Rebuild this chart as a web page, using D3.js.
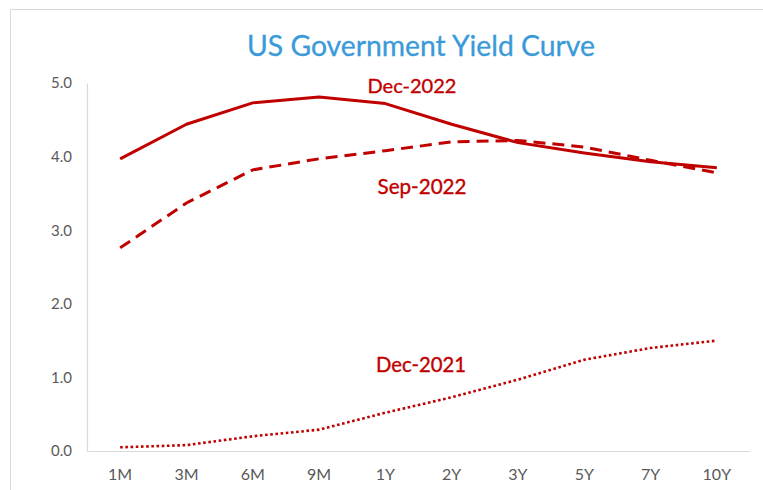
<!DOCTYPE html>
<html><head><meta charset="utf-8">
<script src="https://cdn.jsdelivr.net/npm/d3@7"></script>
<style>body{margin:0;background:#fff}svg{display:block}</style>
</head><body>
<script>
const categories = ["1M","3M","6M","9M","1Y","2Y","3Y","5Y","7Y","10Y"];
const dec2022 = [3.97,4.44,4.73,4.81,4.72,4.44,4.19,4.05,3.93,3.85];
const sep2022 = [2.76,3.37,3.82,3.97,4.08,4.20,4.22,4.13,3.95,3.78];
const dec2021 = [0.05,0.08,0.20,0.29,0.52,0.73,0.97,1.24,1.40,1.50];
const yTicks = [0,1,2,3,4,5];
const seriesNames = ["Dec-2022","Sep-2022","Dec-2021"];
const title = "US Government Yield Curve";

const W = 763, H = 490;
const svg = d3.select("body").append("svg").attr("width", W).attr("height", H);
const font = "Lato, 'Open Sans', sans-serif";

// chart frame
svg.append("rect").attr("x",10.5).attr("y",9.5).attr("width",W).attr("height",H)
  .attr("fill","#fff").attr("stroke","#d9d9d9").attr("stroke-width",1);

const m = {left:87, right:750, top:83, bottom:451};
const x = d3.scaleBand().domain(categories).range([m.left, m.right]).padding(0);
const y = d3.scaleLinear().domain([0,5]).range([m.bottom, m.top]);
const cx = d => x(d) + x.bandwidth()/2;

// axes
const yAxis = svg.append("g").attr("transform",`translate(${m.left},0)`)
  .call(d3.axisLeft(y).tickValues(yTicks).tickFormat(d3.format(".1f")).tickSize(0).tickPadding(15));
const xAxis = svg.append("g").attr("transform",`translate(0,${m.bottom})`)
  .call(d3.axisBottom(x).tickSize(0).tickPadding(18));
yAxis.selectAll("text").style("font-size","15px");
xAxis.selectAll("text").style("font-size","16px");
[yAxis,xAxis].forEach(g=>{
  g.select(".domain").attr("stroke","#d9d9d9").attr("stroke-width",1.2);
  g.selectAll("text").attr("fill","#595959").style("font-family",font);
});

const line = d3.line().x((d,i)=>cx(categories[i])).y(d=>y(d));
const red = "#c00000";
svg.append("path").datum(dec2021).attr("d",line).attr("fill","none")
  .attr("stroke",red).attr("stroke-width",2.6).attr("stroke-dasharray","2.6 2.6");
svg.append("path").datum(sep2022).attr("d",line).attr("fill","none")
  .attr("stroke",red).attr("stroke-width",3).attr("stroke-dasharray","12 7");
svg.append("path").datum(dec2022).attr("d",line).attr("fill","none")
  .attr("stroke",red).attr("stroke-width",3).attr("stroke-linejoin","round");

// fit text to target width
function fitText(t, targetW){
  const w = t.node().getComputedTextLength();
  const fs = parseFloat(t.style("font-size"));
  t.style("font-size", (fs*targetW/w).toFixed(2)+"px");
}
const tt = svg.append("text").attr("x",421).attr("y",56).attr("text-anchor","middle")
  .attr("fill","#3a9ad9").attr("stroke","#3a9ad9").attr("stroke-width",0.3)
  .style("font-family",font).style("font-size","26px").text(title);
fitText(tt, 348);

const labelPos = [[412,93,89],[422,194,89],[421,372,90]];
seriesNames.forEach((n,i)=>{
  const t = svg.append("text").attr("x",labelPos[i][0]).attr("y",labelPos[i][1])
    .attr("text-anchor","middle").attr("fill",red).attr("stroke",red).attr("stroke-width",0.35)
    .style("font-family",font).style("font-size","20px").text(n);
  fitText(t, labelPos[i][2]);
});
</script>
</body></html>
